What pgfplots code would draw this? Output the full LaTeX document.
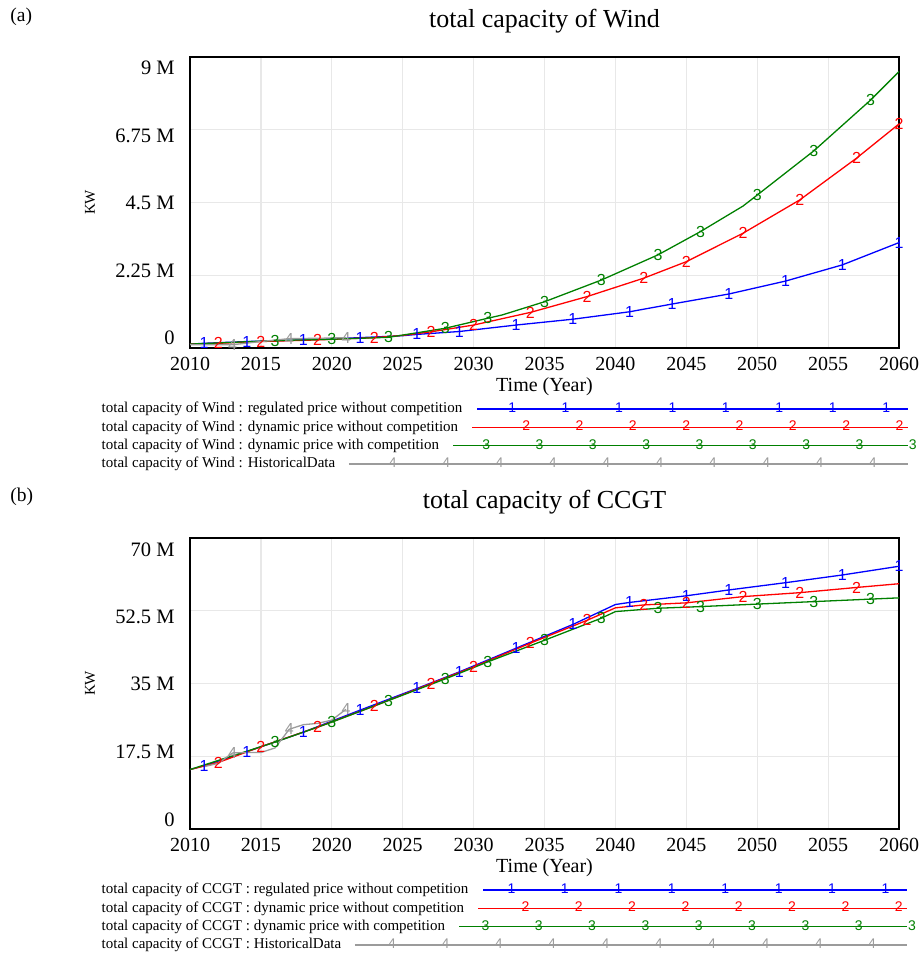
\documentclass[border=0pt]{standalone}
\usepackage{fontspec}
\setmainfont{Liberation Serif}
\newfontfamily\markfamily{Liberation Sans}
\usepackage{pgfplots}
\pgfplotsset{compat=1.18}

\definecolor{vblue}{RGB}{0,0,255}
\definecolor{vred}{RGB}{255,0,0}
\definecolor{vgreen}{RGB}{0,128,0}
\definecolor{vgray}{RGB}{155,155,155}
\definecolor{vgrid}{RGB}{232,232,232}

\newcommand{\plotmarkfont}{\markfamily\fontsize{8}{8}\selectfont}
\newcommand{\legmarkfont}{\markfamily\fontsize{7}{7}\selectfont}

% legend sample: #1 colour, #2 line start (px, relative to origin), #3 origin (px), #4 mark positions (px), #5 glyph
\newcommand{\LegImg}[5]{%
  \path[draw=none,fill=none] (0pt,-3pt) rectangle ({(907.3-#3)*0.5pt},3pt);%
  \draw[overlay,draw=#1,fill=none,line width=0.65pt] ({#2*0.5pt},0pt) -- ({(907.3-#3)*0.5pt},0pt);%
  \foreach \m in {#4}{\node[overlay,draw=none,fill=none,text=#1,font=\legmarkfont,inner sep=0pt] at ({(\m-#3)*0.5pt},0pt) {#5};}%
}

\pgfplotsset{
  vensim/.style={
    scale only axis, width=354.5pt, height=145.5pt,
    xmin=2010, xmax=2060,
    xtick={2010,2015,2020,2025,2030,2035,2040,2045,2050,2055,2060},
    xticklabels={2010,2015,2020,2025,2030,2035,2040,2045,2050,2055,2060},
    grid=major, major grid style={vgrid, line width=0.6pt},
    major tick length=0pt,
    axis line style={line width=1.3pt},
    xticklabel style={font=\fontsize{10}{12}\selectfont, inner sep=0pt, yshift=-4.6pt},
    yticklabel style={font=\fontsize{10.25}{12}\selectfont, inner sep=0pt, anchor=east, xshift=-7.5pt},
    title style={font=\fontsize{13}{15}\selectfont, at={(axis description cs:0.5,1)}, anchor=base, yshift=8.85pt, inner sep=0pt},
    xlabel style={font=\fontsize{10}{12}\selectfont, at={(axis description cs:0.5,0)}, anchor=base, yshift=-21.8pt, inner sep=0pt},
    ylabel style={font=\fontsize{7.5}{9}\selectfont, at={(axis description cs:-0.141,0.5)}, anchor=center, inner sep=0pt},
    xlabel={Time (Year)}, ylabel={KW},
    extra y tick style={grid=none},
    legend cell align=left, legend plot pos=right,
    legend style={at={(axis description cs:-0.1245,-0.1864)}, anchor=north west, draw=none, fill=none, inner sep=0pt, outer sep=0pt, row sep=2.4pt, column sep=7.5pt, font=\fontsize{7.5}{9}\selectfont, nodes={inner sep=0pt, outer sep=0pt}},
    every axis plot/.append style={line width=0.65pt, mark=text, text mark as node=true, text mark style={font=\plotmarkfont, inner sep=0pt}},
    clip=false,
  }
}

\begin{document}
\begin{tikzpicture}
\useasboundingbox (0pt,0pt) rectangle (460.5pt,478pt);
\node[anchor=base west, inner sep=0pt, font=\fontsize{9.75}{12}\selectfont] at (5pt,467.25pt) {(a)};
\node[anchor=base west, inner sep=0pt, font=\fontsize{9.75}{12}\selectfont] at (5pt,227.25pt) {(b)};

% ---------------- (a) Wind ----------------
\begin{axis}[vensim, at={(95pt,304pt)}, anchor=south west,
  title={total capacity of Wind},
  ymin=0, ymax=9, ytick={0,2.25,4.5,6.75,9}, yticklabels={,,,,},
  extra y ticks={0.309,2.397,4.485,6.572,8.66},
  extra y tick labels={0,2.25 M,4.5 M,6.75 M,9 M},
]
\addplot[vblue, text mark={1}, mark indices={2,3,4,5,7,8,9,10,11,12,13,14,15,16},
  legend image code/.code={\LegImg{vblue}{0}{476.7}{507.7,561.1,614.6,668.0,721.4,774.9,828.3,881.7}{1}}]
coordinates {(2010,0.12) (2011,0.145) (2014,0.20) (2018,0.25) (2022,0.32) (2025,0.38) (2026,0.42) (2029,0.51) (2033,0.71) (2037,0.89) (2041,1.12) (2044,1.36) (2048,1.67) (2052,2.07) (2056,2.57) (2060,3.26)};
\addlegendentry{total capacity of Wind : regulated price without competition}
\addplot[vred, text mark={2}, mark indices={2,3,4,5,7,8,9,10,11,12,13,14,15,16},
  legend image code/.code={\LegImg{vred}{-5}{476.7}{521.7,575,628.3,681.7,735,788.3,841.7,895}{2}}]
coordinates {(2010,0.12) (2012,0.145) (2015,0.20) (2019,0.25) (2023,0.32) (2025,0.39) (2027,0.50) (2030,0.71) (2034,1.10) (2038,1.59) (2042,2.16) (2045,2.67) (2049,3.55) (2053,4.58) (2057,5.87) (2060,6.93)};
\addlegendentry{total capacity of Wind : dynamic price without competition}
\addplot[vgreen, text mark={3}, mark indices={2,3,4,6,7,9,10,11,12,14,15,16},
  legend image code/.code={\LegImg{vgreen}{-24}{476.7}{481.7,535,588.3,641.7,695,748.3,801.7,855,908.3}{3}}]
coordinates {(2010,0.12) (2016,0.23) (2020,0.27) (2024,0.33) (2025,0.40) (2028,0.61) (2031,0.92) (2032,1.02) (2035,1.43) (2039,2.10) (2043,2.88) (2046,3.60) (2049,4.39) (2050,4.73) (2054,6.10) (2058,7.67) (2060,8.55)};
\addlegendentry{total capacity of Wind : dynamic price with competition}
\addplot[vgray, text mark={4}, mark indices={2,4,6},
  legend image code/.code={\LegImg{vgray}{-128.4}{476.7}{388.3,441.7,495,548.3,601.7,655,708.3,761.7,815,868.3}{4}}]
coordinates {(2010,0.10) (2013,0.10) (2015,0.20) (2017,0.29) (2019,0.30) (2021,0.32)};
\addlegendentry{total capacity of Wind : HistoricalData}
\end{axis}

% ---------------- (b) CCGT ----------------
\begin{axis}[vensim, at={(95pt,63.5pt)}, anchor=south west,
  title={total capacity of CCGT},
  ymin=0, ymax=70, ytick={0,17.5,35,52.5,70}, yticklabels={,,,,},
  extra y ticks={2.33,18.59,34.88,51.07,67.11},
  extra y tick labels={0,17.5 M,35 M,52.5 M,70 M},
]
\addplot[vblue, text mark={1}, mark indices={2,3,4,5,6,7,8,9,11,12,13,14,15,16},
  legend image code/.code={\LegImg{vblue}{0}{483.4}{507.7,561.1,614.6,668.0,721.4,774.9,828.3,881.7}{1}}]
coordinates {(2010,14.3) (2011,15.2) (2014,18.6) (2018,23.3) (2022,28.6) (2026,33.8) (2029,37.8) (2033,43.5) (2037,49.2) (2040,54.0) (2041,54.5) (2045,56.1) (2048,57.5) (2052,59.25) (2056,61.1) (2060,63.2)};
\addlegendentry{total capacity of CCGT : regulated price without competition}
\addplot[vred, text mark={2}, mark indices={2,3,4,5,6,7,8,9,11,12,13,14,15},
  legend image code/.code={\LegImg{vred}{-5}{483.4}{521.7,575,628.3,681.7,735,788.3,841.7,895}{2}}]
coordinates {(2010,14.3) (2012,16.0) (2015,19.8) (2019,24.5) (2023,29.6) (2027,35.0) (2030,39.0) (2034,44.7) (2038,50.2) (2040,53.2) (2042,53.9) (2045,54.4) (2049,55.9) (2053,56.85) (2057,58.1) (2060,59.0)};
\addlegendentry{total capacity of CCGT : dynamic price without competition}
\addplot[vgreen, text mark={3}, mark indices={2,3,4,5,6,7,8,10,11,12,13,14},
  legend image code/.code={\LegImg{vgreen}{-24}{483.4}{481.7,535,588.3,641.7,695,748.3,801.7,855,908.3}{3}}]
coordinates {(2010,14.3) (2016,20.9) (2020,25.7) (2024,30.9) (2028,36.1) (2031,40.2) (2035,45.4) (2039,50.7) (2040,52.3) (2043,53.1) (2046,53.5) (2050,54.1) (2054,54.7) (2058,55.3) (2060,55.6)};
\addlegendentry{total capacity of CCGT : dynamic price with competition}
\addplot[vgray, text mark={4}, mark indices={3,7,11},
  legend image code/.code={\LegImg{vgray}{-128.4}{483.4}{388.3,441.7,495,548.3,601.7,655,708.3,761.7,815,868.3}{4}}]
coordinates {(2011,15.0) (2012,15.8) (2013,18.3) (2014,18.4) (2015,18.4) (2016,19.5) (2017,24.0) (2018,25.1) (2019,25.4) (2020,26.2) (2021,28.8)};
\addlegendentry{total capacity of CCGT : HistoricalData}
\end{axis}
\end{tikzpicture}
\end{document}
